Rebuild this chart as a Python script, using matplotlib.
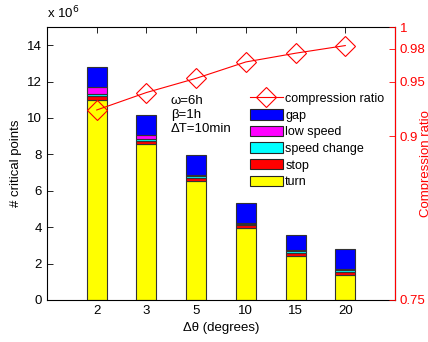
import matplotlib
matplotlib.use("Agg")
import matplotlib.pyplot as plt
import numpy as np
from matplotlib.patches import Patch
from matplotlib.lines import Line2D

plt.rcParams['font.family'] = ['Liberation Sans', 'DejaVu Sans']
plt.rcParams['font.size'] = 9

# Angle thresholds (degrees)
angles = ["2", "3", "5", "10", "15", "20"]

# Critical point counts per type (x 10^6), stacked bottom to top
turn = [11.0, 8.58, 6.52, 3.93, 2.43, 1.36]
stop = [0.20, 0.17, 0.20, 0.17, 0.17, 0.18]
speed_change = [0.10, 0.10, 0.12, 0.10, 0.10, 0.10]
low_speed = [0.40, 0.20, 0.05, 0.05, 0.05, 0.06]
gap = [1.10, 1.10, 1.07, 1.10, 0.84, 1.12]

# Compression ratio per threshold
compression = [0.924, 0.940, 0.953, 0.968, 0.976, 0.983]

series = [
    ("turn", turn, "#ffff00"),
    ("stop", stop, "#ff0000"),
    ("speed change", speed_change, "#00ffff"),
    ("low speed", low_speed, "#ff00ff"),
    ("gap", gap, "#0000ff"),
]

fig = plt.figure(figsize=(4.28, 3.42), dpi=100)
ax = fig.add_axes([47 / 428, 42 / 342, 348 / 428, 273 / 342])

x = np.arange(1, len(angles) + 1)
bottom = np.zeros(len(angles))
for name, vals, col in series:
    v = np.array(vals)
    ax.bar(x, v, width=0.4, bottom=bottom, color=col, edgecolor="0.2",
           linewidth=0.8, zorder=2)
    bottom += v

ax.set_xlim(0, 7)
ax.set_ylim(0, 15)
ax.set_xticks(x)
ax.set_xticklabels(angles)
ax.set_yticks(np.arange(0, 15, 2))
ax.tick_params(direction="in", top=True, right=True, length=4, width=0.6,
               labelsize=9.5)
for s in ax.spines.values():
    s.set_linewidth(0.8)
ax.set_xlabel("Δθ (degrees)", fontsize=9.5, labelpad=4)
ax.set_ylabel("# critical points", fontsize=9.5, labelpad=4)
ax.text(0.0, 1.02, "x 10$^6$", transform=ax.transAxes, fontsize=9.5,
        ha="left", va="bottom")

ax.text(0.356, 0.75, "ω=6h\nβ=1h\nΔT=10min", transform=ax.transAxes,
        fontsize=9.5, ha="left", va="top", linespacing=1.2)

ax2 = ax.twinx()
ax2.plot(x, compression, color="red", linewidth=0.8, marker="D",
         markersize=10, markerfacecolor="none", markeredgecolor="red",
         markeredgewidth=0.8, zorder=3)
ax2.set_ylim(0.75, 1.0)
ax2.set_yticks([0.75, 0.9, 0.95, 0.98, 1.0])
ax2.set_yticklabels(["0.75", "0.9", "0.95", "0.98", "1"])
ax2.tick_params(axis="y", direction="in", colors="red", length=4, width=0.6,
                labelsize=9.5)
ax2.spines["right"].set_color("red")
ax2.spines["right"].set_linewidth(0.8)
for k in ("left", "top", "bottom"):
    ax2.spines[k].set_visible(False)
ax2.set_ylabel("Compression ratio", color="red", fontsize=9.5)
ax2.yaxis.set_label_coords((420 - 47) / 348, 0.5)

handles = [Line2D([0], [0], color="red", linewidth=0.8, marker="D",
                  markersize=10, markerfacecolor="none",
                  markeredgecolor="red", markeredgewidth=0.8)]
labels = ["compression ratio"]
for name, vals, col in reversed(series):
    handles.append(Patch(facecolor=col, edgecolor="0.15", linewidth=0.8))
    labels.append(name)
ax2.legend(handles, labels, loc="upper left",
           bbox_to_anchor=(0.584, 0.76), frameon=False, fontsize=9,
           handlelength=2.6, handleheight=0.9, handletextpad=0.2,
           labelspacing=0.33, borderaxespad=0, borderpad=0)

fig.savefig("out.png", dpi=100)
